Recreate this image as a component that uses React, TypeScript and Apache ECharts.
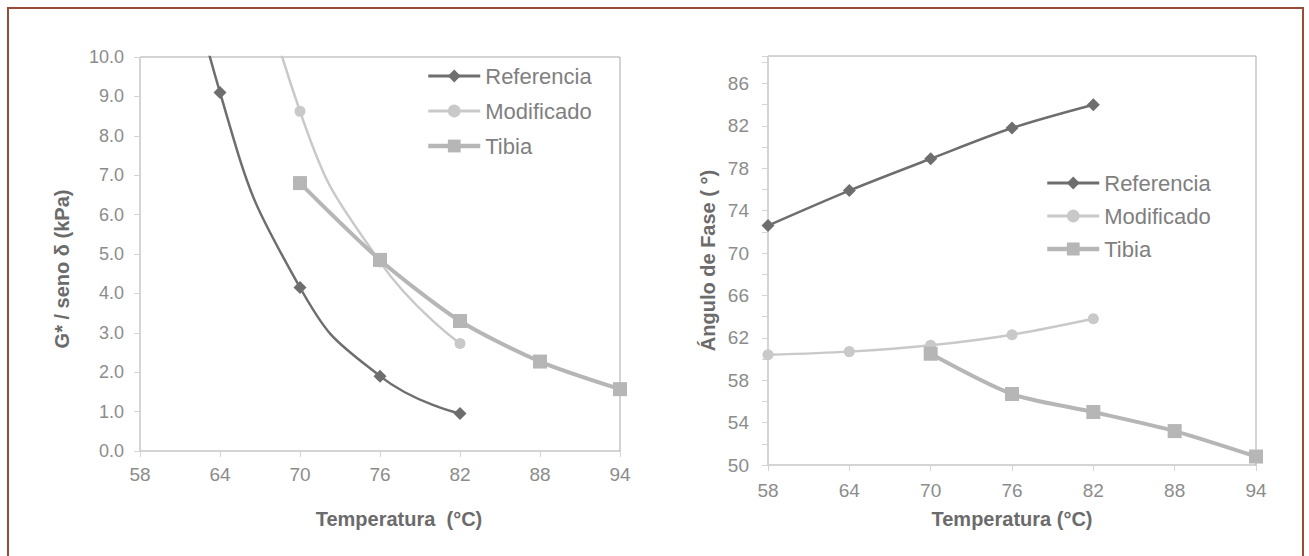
import React, { useEffect, useRef } from "react";
import * as echarts from "echarts";

const temps = ["58", "64", "70", "76", "82", "88", "94"];
const seriesNames = ["Referencia", "Modificado", "Tibia"];

// Left chart: G*/seno δ (kPa)
const gRef = [18, 9.1, 4.15, 1.9, 0.95, null, null];
const gMod = [null, 16.5, 8.62, 4.8, 2.73, null, null];
const gTib = [null, null, 6.8, 4.85, 3.3, 2.27, 1.57];

// Right chart: Ángulo de fase (°)
const aRef = [72.6, 75.9, 78.9, 81.8, 84.0, null, null];
const aMod = [60.4, 60.7, 61.3, 62.3, 63.8, null, null];
const aTib = [null, null, 60.5, 56.7, 55.0, 53.2, 50.8];

const FONT = "'Liberation Sans', Arial, sans-serif";
const LABEL = "#8c8c8c";
const TITLE = "#6b6b6b";

const styles = [
  { color: "#6e6e6e", width: 2.5, symbol: "diamond", size: 13, smooth: 0.5 },
  { color: "#c9c9c9", width: 2.5, symbol: "circle", size: 11, smooth: 0.5 },
  { color: "#b6b6b6", width: 4, symbol: "rect", size: 14, smooth: 0.25 },
];

function mkSeries(idx: number, data: (number | null)[], s: any, name: string) {
  return {
    type: "line",
    name,
    xAxisIndex: idx,
    yAxisIndex: idx,
    data,
    smooth: idx === 1 && s.symbol !== "rect" ? 0.3 : s.smooth,
    symbol: s.symbol,
    symbolSize: s.size,
    showAllSymbol: true,
    clip: true,
    lineStyle: { color: s.color, width: s.width },
    itemStyle: { color: s.color },
  };
}

const legendData = seriesNames.map((n, i) => ({
  name: n,
  lineStyle: { width: i === 2 ? 4.5 : 3 },
}));

export default function App() {
  const ref = useRef<HTMLDivElement>(null);
  useEffect(() => {
    if (!ref.current) return;
    const chart = echarts.init(ref.current, null, { renderer: "svg" });
    const axisLine = { show: true, lineStyle: { color: "#d4d4d4", width: 1 } };
    const axisTick = { show: true, length: 6, lineStyle: { color: "#d4d4d4" } };
    const titleStyle = { color: TITLE, fontWeight: "bold", fontSize: 20, fontFamily: FONT };
    const xCommon = {
      type: "category",
      data: temps,
      boundaryGap: false,
      axisLine,
      axisTick: { ...axisTick, alignWithLabel: true },
      splitLine: { show: false },
      nameLocation: "middle",
    };
    const legendCommon = {
      orient: "vertical",
      padding: 0,
      itemWidth: 52,
      itemHeight: 16,
      itemGap: 13,
      data: legendData,
      selectedMode: false,
      textStyle: { color: "#7f7f7f", fontSize: 22, fontFamily: FONT },
    };
    chart.setOption({
      animation: false,
      backgroundColor: "#ffffff",
      grid: [
        { left: 140, top: 57, right: 689, bottom: 105, show: true, borderColor: "#a8a8a8", borderWidth: 1, backgroundColor: "transparent" },
        { left: 768, top: 56, right: 53, bottom: 91, show: true, borderColor: "#a8a8a8", borderWidth: 1, backgroundColor: "transparent" },
      ],
      xAxis: [
        {
          ...xCommon,
          gridIndex: 0,
          name: "Temperatura  (°C)",
          nameGap: 58,
          nameTextStyle: { ...titleStyle, padding: [0, 0, 0, 38] },
          axisLabel: { color: LABEL, fontSize: 19, fontFamily: FONT, margin: 14 },
        },
        {
          ...xCommon,
          gridIndex: 1,
          name: "Temperatura (°C)",
          nameGap: 44,
          nameTextStyle: titleStyle,
          axisLabel: { color: LABEL, fontSize: 19, fontFamily: FONT, margin: 16 },
        },
      ],
      yAxis: [
        {
          type: "value",
          gridIndex: 0,
          min: 0,
          max: 10,
          interval: 1,
          axisLine,
          axisTick,
          splitLine: { show: false },
          axisLabel: { color: LABEL, fontSize: 18, fontFamily: FONT, margin: 16, formatter: (v: number) => v.toFixed(1) },
          name: "G* / seno δ (kPa)",
          nameLocation: "middle",
          nameGap: 68,
          nameTextStyle: { ...titleStyle, padding: [0, 30, 0, 0] },
        },
        {
          type: "value",
          gridIndex: 1,
          min: 50,
          max: 88.6,
          interval: 2,
          axisLine,
          axisTick,
          splitLine: { show: false },
          axisLabel: {
            color: LABEL,
            fontSize: 19,
            fontFamily: FONT,
            margin: 19,
            formatter: (v: number) => (Math.abs((v - 50) % 4) < 1e-6 ? String(Math.round(v)) : ""),
          },
          name: "Ángulo de Fase ( °)",
          nameLocation: "middle",
          nameGap: 50,
          nameTextStyle: titleStyle,
        },
      ],
      legend: [
        { ...legendCommon, left: 426, top: 65 },
        { ...legendCommon, left: 1045, top: 172, itemGap: 11 },
      ],
      graphic: [
        {
          type: "rect",
          shape: { x: 8, y: 8, width: 1295, height: 600 },
          style: { fill: "none", stroke: "#9c4b37", lineWidth: 2 },
          silent: true,
        },
      ],
      series: [
        mkSeries(0, gRef, styles[0], seriesNames[0]),
        mkSeries(0, gMod, styles[1], seriesNames[1]),
        mkSeries(0, gTib, styles[2], seriesNames[2]),
        mkSeries(1, aRef, styles[0], seriesNames[0]),
        mkSeries(1, aMod, styles[1], seriesNames[1]),
        mkSeries(1, aTib, styles[2], seriesNames[2]),
      ],
    });
    return () => chart.dispose();
  }, []);
  return (
    <div
      ref={ref}
      style={{ position: "absolute", left: 0, top: 0, width: 1309, height: 556 }}
    />
  );
}
